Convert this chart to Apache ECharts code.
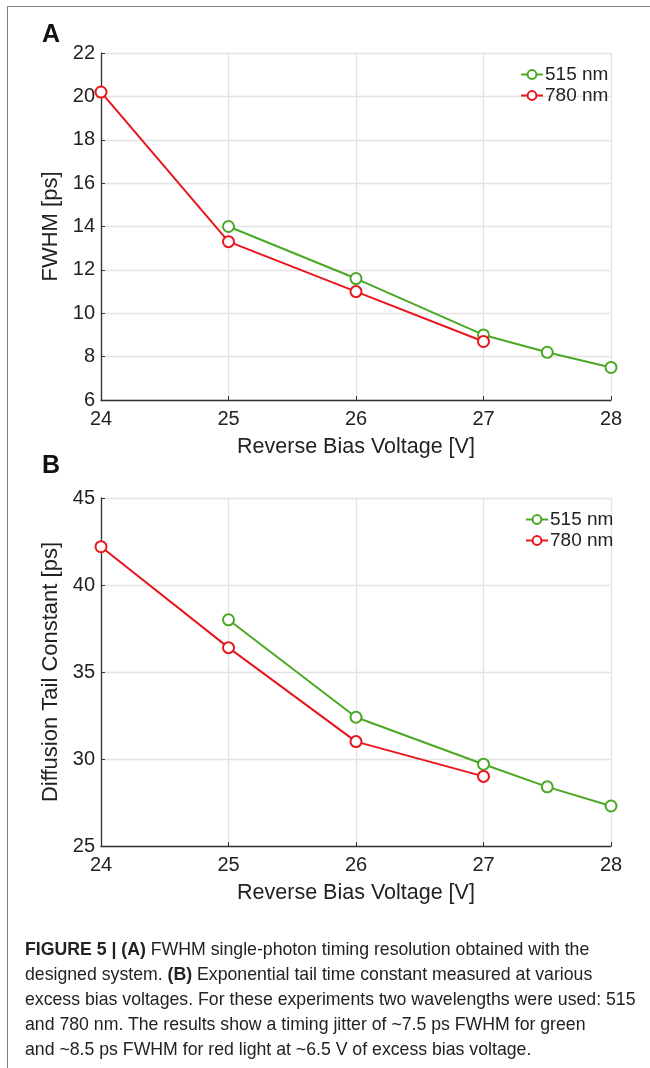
<!DOCTYPE html>
<html>
<head>
<meta charset="utf-8">
<script src="https://cdn.jsdelivr.net/npm/echarts@6/dist/echarts.min.js"></script>
<style>
  html, body { margin: 0; padding: 0; background: #fff; }
  .frame {
    position: absolute; left: 7px; top: 6px; width: 650px; height: 1070px;
    border-left: 1.5px solid #808080; border-top: 1.5px solid #808080;
  }
  #chart { position: absolute; left: 0; top: 0; width: 650px; height: 1068px; }
  .caption {
    position: absolute; left: 25px; top: 937px; width: 625px;
    font-family: "Liberation Sans", Arial, sans-serif; font-size: 17.7px;
    line-height: 25px; color: #222; white-space: nowrap;
  }
  .caption b { font-weight: bold; }
</style>
</head>
<body>
<div class="frame"></div>
<div id="chart"></div>
<div class="caption">
  <b>FIGURE 5 | (A)</b> FWHM single-photon timing resolution obtained with the<br>
  designed system. <b>(B)</b> Exponential tail time constant measured at various<br>
  excess bias voltages. For these experiments two wavelengths were used: 515<br>
  and 780 nm. The results show a timing jitter of ~7.5 ps FWHM for green<br>
  and ~8.5 ps FWHM for red light at ~6.5 V of excess bias voltage.
</div>
<script>
// reverse bias voltage [V]
const voltsGreen = [25, 26, 27, 27.5, 28];
const voltsRed = [24, 25, 26, 27];
const xTicks = [24, 25, 26, 27, 28];

// panel A: FWHM [ps]
const fwhm515 = [14.0, 11.6, 9.0, 8.2, 7.5];
const fwhm780 = [20.2, 13.3, 11.0, 8.7];
const fwhmTicks = [6, 8, 10, 12, 14, 16, 18, 20, 22];

// panel B: diffusion tail constant [ps]
const tail515 = [38.0, 32.4, 29.7, 28.4, 27.3];
const tail780 = [42.2, 36.4, 31.0, 29.0];
const tailTicks = [25, 30, 35, 40, 45];

const GREEN = '#4ba825';
const RED = '#e8161c';
const FONT = '"Liberation Sans", Arial, sans-serif';

const pairs = (xs, ys) => xs.map((x, i) => [x, ys[i]]);

function xAxisFor(gridIndex) {
  return {
    gridIndex, type: 'value',
    min: xTicks[0], max: xTicks[xTicks.length - 1], interval: 1,
    name: 'Reverse Bias Voltage [V]', nameLocation: 'middle', nameGap: 36,
    nameTextStyle: { fontFamily: FONT, fontSize: 21.5, color: '#222' },
    axisLine: { lineStyle: { color: '#333', width: 1.3 } },
    axisTick: { inside: true, length: 4, lineStyle: { color: '#333' } },
    axisLabel: { fontFamily: FONT, fontSize: 20, color: '#222', margin: 9 },
    splitLine: { show: true, lineStyle: { color: '#e3e3e3', width: 1.3 } }
  };
}

function yAxisFor(gridIndex, ticks, name) {
  return {
    gridIndex, type: 'value',
    min: ticks[0], max: ticks[ticks.length - 1], interval: ticks[1] - ticks[0],
    name, nameLocation: 'middle', nameGap: 1, nameRotate: 90,
    nameTextStyle: { fontFamily: FONT, fontSize: 22, color: '#222' },
    axisLine: { show: true, lineStyle: { color: '#333', width: 1.3 } },
    axisTick: { show: true, inside: true, length: 4, lineStyle: { color: '#333' } },
    axisLabel: { fontFamily: FONT, fontSize: 20, color: '#222', margin: 6 },
    splitLine: { show: true, lineStyle: { color: '#e3e3e3', width: 1.3 } }
  };
}

function lineSeries(name, color, data, idx) {
  return {
    name, type: 'line', xAxisIndex: idx, yAxisIndex: idx, data,
    symbol: 'emptyCircle', symbolSize: 11, showSymbol: true,
    lineStyle: { color, width: 2 },
    itemStyle: { color, borderWidth: 2 },
    animation: false
  };
}

function legendAt(left, top) {
  return {
    orient: 'vertical', left, top, itemWidth: 22, itemHeight: 11, itemGap: 2,
    textStyle: { fontFamily: FONT, fontSize: 19, color: '#222', padding: [0, 0, 0, -3] },
    data: ['515 nm', '780 nm']
  };
}

const chart = echarts.init(document.getElementById('chart'), null, { renderer: 'canvas' });
chart.setOption({
  animation: false,
  grid: [
    { left: 101, top: 53, width: 510, height: 347, outerBoundsMode: 'none', containLabel: false },
    { left: 101, top: 498, width: 510, height: 348, outerBoundsMode: 'none', containLabel: false }
  ],
  xAxis: [xAxisFor(0), xAxisFor(1)],
  yAxis: [
    yAxisFor(0, fwhmTicks, 'FWHM [ps]'),
    yAxisFor(1, tailTicks, 'Diffusion Tail Constant [ps]')
  ],
  legend: [legendAt(515, 60), legendAt(520, 505)],
  graphic: [
    { type: 'text', left: 42, top: 23, style: { text: 'A', font: 'bold 25px "Liberation Sans", Arial', fill: '#111' } },
    { type: 'text', left: 42, top: 454, style: { text: 'B', font: 'bold 25px "Liberation Sans", Arial', fill: '#111' } }
  ],
  series: [
    lineSeries('515 nm', GREEN, pairs(voltsGreen, fwhm515), 0),
    lineSeries('780 nm', RED, pairs(voltsRed, fwhm780), 0),
    lineSeries('515 nm', GREEN, pairs(voltsGreen, tail515), 1),
    lineSeries('780 nm', RED, pairs(voltsRed, tail780), 1)
  ]
});
</script>
</body>
</html>
